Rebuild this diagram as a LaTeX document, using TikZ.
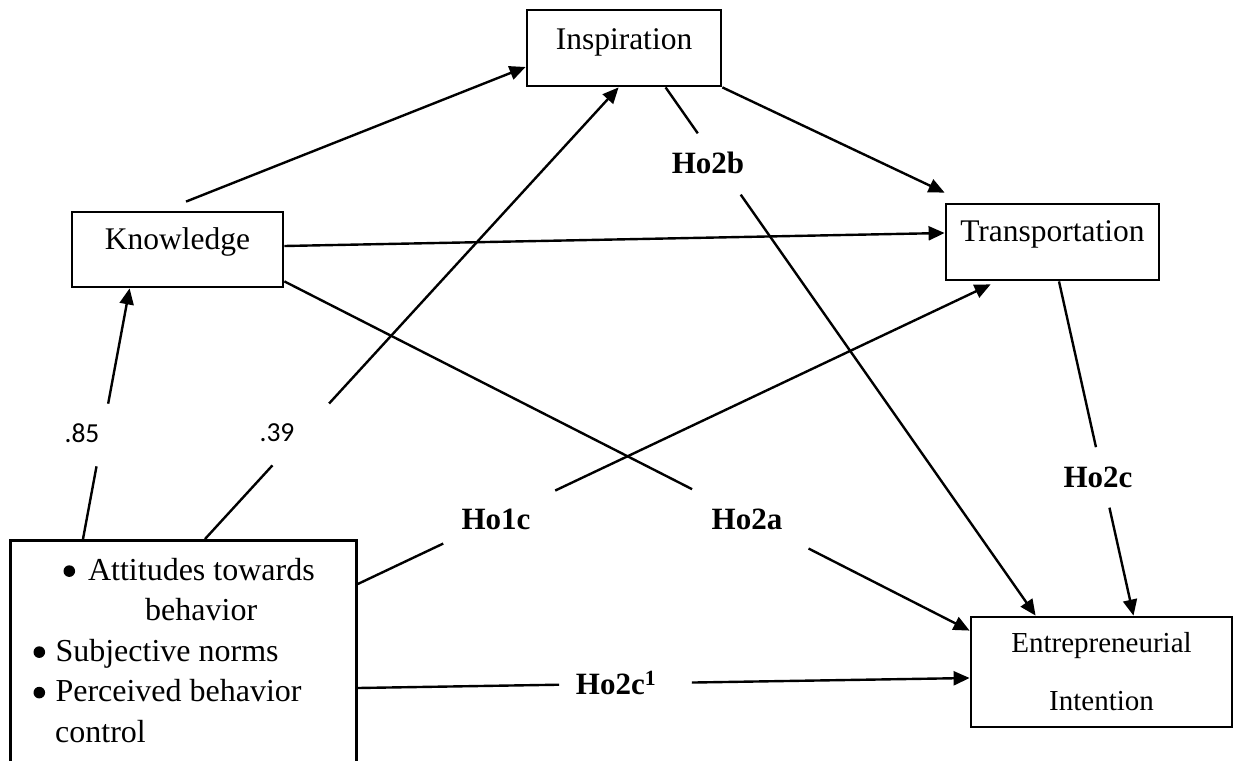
\documentclass[tikz,border=0pt]{standalone}
\usepackage{fontspec}
\setmainfont{Liberation Serif}
\newfontfamily\calibfont{Carlito}
\usetikzlibrary{arrows.meta}
\newcommand\bulletmark{\tikz[baseline=0pt,x=1pt,y=1pt]{\fill (5.8,9.3) circle[radius=5.8];}}
\begin{document}
\begin{tikzpicture}[x=1pt,y=-1pt,
  box/.style={draw, line width=2.8pt, inner sep=0pt, font=\fontsize{31.5}{38}\selectfont},
  conn/.style={line width=2.4pt},
  arr/.style={conn, -{Triangle[length=16pt,width=14pt]}},
  hyp/.style={font=\fontsize{31}{37}\selectfont\bfseries, inner sep=0pt},
  coef/.style={font=\calibfont\fontsize{27.5}{32}\selectfont, inner sep=0pt}]
\useasboundingbox (0,0) rectangle (1238,760);
\fill[white] (0,0) rectangle (1238,760);

% boxes
\node[box, minimum width=194pt, minimum height=76pt, text height=20pt, text depth=16pt] (insp) at (624,48) {Inspiration};
\node[box, minimum width=211pt, minimum height=75pt, text height=20pt, text depth=21pt] (know) at (177.5,249.5) {Knowledge};
\node[box, minimum width=213pt, minimum height=76pt, text height=20pt, text depth=22pt] (trans) at (1052.5,242) {Transportation};
\node[box, minimum width=261pt, minimum height=110pt] (ent) at (1101.5,672) {};
\node[align=center, inner sep=0pt, font=\fontsize{29}{58}\selectfont] (enttext) at (ent.center) {Entrepreneurial\\Intention};
\node[box, minimum width=346pt, minimum height=261pt, anchor=north west] (att) at (9,539) {};
\node[anchor=north west, align=left, inner sep=0pt, font=\fontsize{32}{40.5}\selectfont] (atttext) at (9,558)
  {\hspace*{54.3pt}\bulletmark\hspace{13pt}Attitudes towards\\
   \hspace*{136pt}behavior\\
   \hspace*{24.3pt}\bulletmark\hspace{10.4pt}Subjective norms\\
   \hspace*{24.3pt}\bulletmark\hspace{10.4pt}Perceived behavior\\
   \hspace*{46pt}control};

% labels
\node[coef] (l85) at (82,433) {.85};
\node[coef] (l39) at (277,433) {.39};
\node[hyp] (h2b) at (708,163) {Ho2b};
\node[hyp] (h2c) at (1098,477) {Ho2c};
\node[hyp] (h1c) at (496,519) {Ho1c};
\node[hyp] (h2a) at (747,519) {Ho2a};
\node[hyp] (h2c1) at (616,683) {Ho2c\textsuperscript{1}};

% plain arrows
\coordinate (kiA) at ([xshift=8.5pt,yshift=9pt]know.north);
\draw[arr] (kiA) -- ([yshift=-19pt]insp.west);
\draw[arr] (insp.south east) -- ([yshift=10pt]trans.north west);
\draw[arr] ([yshift=3.5pt]know.east) -- ([yshift=9pt]trans.west);

% att -> know (.85)
\path ([xshift=74pt]att.north west) -- ([xshift=59pt]know.south west)
  coordinate[pos=0.29] (g1a) coordinate[pos=0.54] (g1b);
\draw[conn] ([xshift=74pt]att.north west) -- (g1a);
\draw[arr] (g1b) -- ([xshift=59pt]know.south west);

% att -> insp (.39)
\path ([xshift=196pt]att.north west) -- ([xshift=93pt]insp.south west)
  coordinate[pos=0.163] (g2a) coordinate[pos=0.30] (g2b);
\draw[conn] ([xshift=196pt]att.north west) -- (g2a);
\draw[arr] (g2b) -- ([xshift=93pt]insp.south west);

% att -> trans (Ho1c)
\path ([yshift=-45pt]att.north east) -- ([xshift=46pt,yshift=-3pt]trans.south west)
  coordinate[pos=0.135] (g3a) coordinate[pos=0.312] (g3b);
\draw[conn] ([yshift=-45pt]att.north east) -- (g3a);
\draw[arr] (g3b) -- ([xshift=46pt,yshift=-3pt]trans.south west);

% know -> ent (Ho2a)
\path ([yshift=7pt]know.south east) -- ([yshift=-15pt]ent.north west)
  coordinate[pos=0.595] (g4a) coordinate[pos=0.765] (g4b);
\draw[conn] ([yshift=7pt]know.south east) -- (g4a);
\draw[arr] (g4b) -- ([yshift=-15pt]ent.north west);

% insp -> ent (Ho2b)
\path ([xshift=140pt]insp.south west) -- ([xshift=66pt]ent.north west)
  coordinate[pos=0.087] (g5a) coordinate[pos=0.203] (g5b);
\draw[conn] ([xshift=140pt]insp.south west) -- (g5a);
\draw[arr] (g5b) -- ([xshift=66pt]ent.north west);

% trans -> ent (Ho2c)
\path ([xshift=6.5pt]trans.south) -- ([xshift=32pt]ent.north)
  coordinate[pos=0.496] (g6a) coordinate[pos=0.677] (g6b);
\draw[conn] ([xshift=6.5pt]trans.south) -- (g6a);
\draw[arr] (g6b) -- ([xshift=32pt]ent.north);

% att -> ent (Ho2c1)
\path ([yshift=-149pt]att.north east) -- ([yshift=-6pt]ent.west)
  coordinate[pos=0.329] (g7a) coordinate[pos=0.546] (g7b);
\draw[conn] ([yshift=-149pt]att.north east) -- (g7a);
\draw[arr] (g7b) -- ([yshift=-6pt]ent.west);
\end{tikzpicture}
\end{document}
